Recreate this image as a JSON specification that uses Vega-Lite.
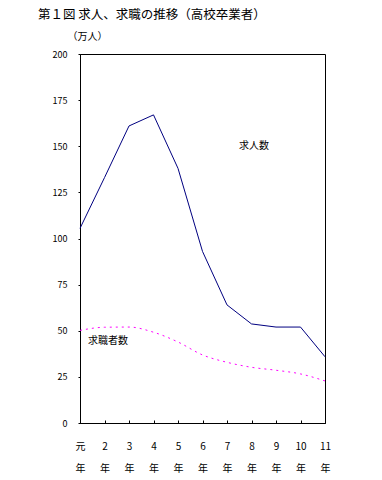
{
  "$schema": "https://vega.github.io/schema/vega-lite/v6.json",
  "width": 245,
  "height": 369,
  "autosize": "none",
  "padding": {"left": 80, "top": 54, "right": 57, "bottom": 57},
  "background": "white",
  "config": {
    "font": "Noto Sans CJK JP",
    "view": {"stroke": "black", "strokeWidth": 1},
    "axis": {"domainColor": "black", "tickColor": "black", "labelColor": "black", "titleColor": "black", "grid": false, "labelFont": "Noto Sans CJK JP", "titleFont": "Noto Sans CJK JP"}
  },
  "title": {
    "text": "第１図 求人、求職の推移（高校卒業者）",
    "anchor": "start",
    "frame": "group",
    "dx": -42,
    "offset": 10,
    "fontSize": 12.5,
    "fontWeight": "normal",
    "color": "black",
    "font": "Noto Sans CJK JP"
  },
  "data": {
    "values": [
      {"year": "元", "series": "求人数", "value": 105.5},
      {"year": "2", "series": "求人数", "value": 133},
      {"year": "3", "series": "求人数", "value": 161},
      {"year": "4", "series": "求人数", "value": 167},
      {"year": "5", "series": "求人数", "value": 138},
      {"year": "6", "series": "求人数", "value": 93},
      {"year": "7", "series": "求人数", "value": 64},
      {"year": "8", "series": "求人数", "value": 53.7},
      {"year": "9", "series": "求人数", "value": 52},
      {"year": "10", "series": "求人数", "value": 52},
      {"year": "11", "series": "求人数", "value": 35.9},
      {"year": "元", "series": "求職者数", "value": 50.2},
      {"year": "2", "series": "求職者数", "value": 51.9},
      {"year": "3", "series": "求職者数", "value": 52},
      {"year": "4", "series": "求職者数", "value": 49.2},
      {"year": "5", "series": "求職者数", "value": 43.9},
      {"year": "6", "series": "求職者数", "value": 36.9},
      {"year": "7", "series": "求職者数", "value": 32.9},
      {"year": "8", "series": "求職者数", "value": 30.2},
      {"year": "9", "series": "求職者数", "value": 28.6},
      {"year": "10", "series": "求職者数", "value": 26.6},
      {"year": "11", "series": "求職者数", "value": 22.8}
    ]
  },
  "encoding": {
    "x": {
      "field": "year",
      "type": "ordinal",
      "sort": ["元", "2", "3", "4", "5", "6", "7", "8", "9", "10", "11"],
      "scale": {"type": "point", "padding": 0},
      "axis": {
        "title": null,
        "labelAngle": 0,
        "labelExpr": "[datum.value, '年']",
        "labelLineHeight": 22,
        "labelFontSize": 10,
        "labelPadding": 21,
        "tickSize": -3,
        "labelBaseline": "top"
      }
    },
    "y": {
      "field": "value",
      "type": "quantitative",
      "scale": {"domain": [0, 200], "nice": false},
      "axis": {
        "values": [0, 25, 50, 75, 100, 125, 150, 175, 200],
        "title": "（万人）",
        "titleAngle": 0,
        "titleAlign": "left",
        "titleBaseline": "middle",
        "titleX": -13,
        "titleY": -18,
        "titleFontSize": 10,
        "titleFontWeight": "normal",
        "labelFontSize": 9,
        "tickSize": 2,
        "labelPadding": 11
      }
    }
  },
  "layer": [
    {
      "transform": [{"filter": "datum.series === '求人数'"}],
      "mark": {"type": "line", "color": "#000080", "strokeWidth": 1}
    },
    {
      "transform": [{"filter": "datum.series === '求職者数'"}],
      "mark": {"type": "line", "color": "#FF00FF", "strokeWidth": 1, "strokeDash": [2, 4], "interpolate": "monotone"}
    },
    {
      "transform": [{"filter": "datum.series === '求人数' && datum.year === '7'"}],
      "mark": {"type": "text", "align": "left", "baseline": "middle", "fontSize": 10, "fontWeight": "normal", "dx": 12, "color": "black", "font": "Noto Sans CJK JP"},
      "encoding": {
        "y": {"datum": 150},
        "text": {"field": "series"}
      }
    },
    {
      "transform": [{"filter": "datum.series === '求職者数' && datum.year === '元'"}],
      "mark": {"type": "text", "align": "left", "baseline": "middle", "fontSize": 10, "fontWeight": "normal", "dx": 8, "color": "black", "font": "Noto Sans CJK JP"},
      "encoding": {
        "y": {"datum": 44.4},
        "text": {"field": "series"}
      }
    }
  ]
}
